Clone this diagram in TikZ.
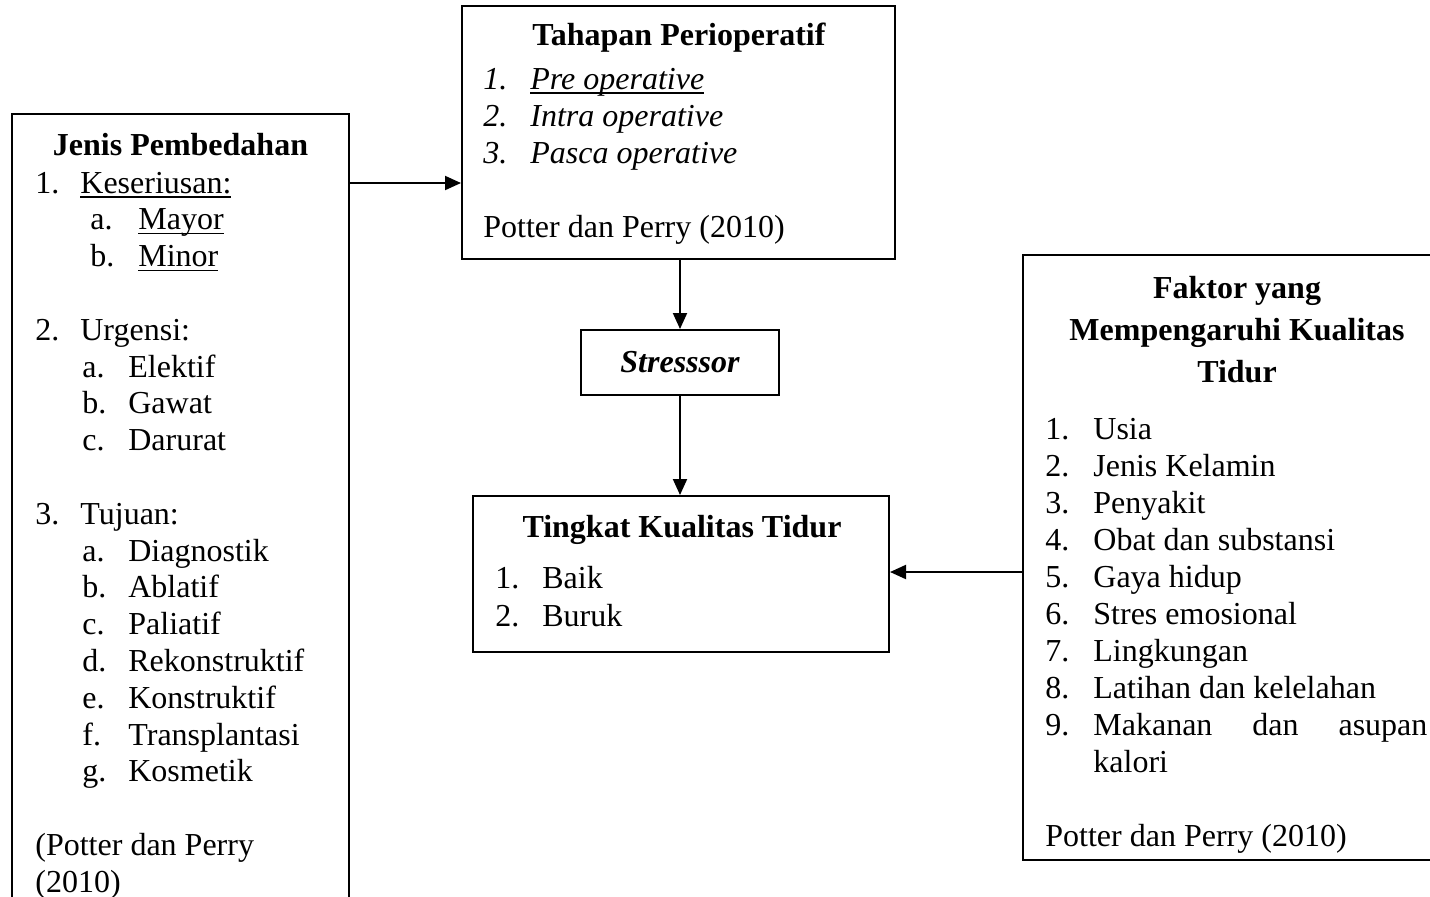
\documentclass[tikz,border=0pt]{standalone}
\usepackage{fontspec}
\setmainfont{Liberation Serif}
\usetikzlibrary{arrows.meta,fit}
\newcommand\myul[1]{\setbox0\hbox{#1}\rlap{\rule[-2.3pt]{\wd0}{0.6pt}}\box0}
\newcommand\lab[2]{\makebox[#1][l]{#2}}
\tikzset{
  box/.style={draw, line width=1pt, inner sep=0pt},
  txt/.style={inner sep=0pt, font=\fontsize{16}{18.5}\selectfont},
  arr/.style={line width=1pt, -{Triangle[length=8pt,width=7pt]}}
}
\begin{document}
\begin{tikzpicture}[x=0.5pt,y=-0.5pt]
\clip (0,0) rectangle (1430,896);
\fill[white] (0,0) rectangle (1430,896);

% boxes
\node[box, fit={(12,114) (349,930)}] (left) {};
\node[box, fit={(462,6) (895,259)}] (top) {};
\node[box, minimum width=99pt, minimum height=32.5pt, font=\fontsize{16}{18.5}\selectfont\bfseries\itshape] (stress) at (680,362.5) {Stresssor};
\node[box, fit={(473,496) (889,652)}] (tingkat) {};
\node[box, fit={(1023,255) (1451,860)}] (right) {};

% left box text
\node[txt, anchor=base, font=\fontsize{16}{18.5}\selectfont\bfseries] (lefthead) at (180.5,155) {Jenis Pembedahan};
\node[txt, anchor=base west] (leftlist) at (35,193) {\parbox[t]{170pt}{\baselineskip=18.4pt
\lab{22.5pt}{1.}\myul{Keseriusan:}\\
\hspace*{27.5pt}\lab{24pt}{a.}\myul{Mayor}\\
\hspace*{27.5pt}\lab{24pt}{b.}\myul{Minor}\\
\mbox{}\\
\lab{22.5pt}{2.}Urgensi:\\
\hspace*{23.5pt}\lab{23pt}{a.}Elektif\\
\hspace*{23.5pt}\lab{23pt}{b.}Gawat\\
\hspace*{23.5pt}\lab{23pt}{c.}Darurat\\
\mbox{}\\
\lab{22.5pt}{3.}Tujuan:\\
\hspace*{23.5pt}\lab{23pt}{a.}Diagnostik\\
\hspace*{23.5pt}\lab{23pt}{b.}Ablatif\\
\hspace*{23.5pt}\lab{23pt}{c.}Paliatif\\
\hspace*{23.5pt}\lab{23pt}{d.}Rekonstruktif\\
\hspace*{23.5pt}\lab{23pt}{e.}Konstruktif\\
\hspace*{23.5pt}\lab{23pt}{f.}Transplantasi\\
\hspace*{23.5pt}\lab{23pt}{g.}Kosmetik\\
\mbox{}\\
(Potter dan Perry\\
(2010)}};

% top box text
\node[txt, anchor=base, font=\fontsize{16}{18.5}\selectfont\bfseries] (tophead) at (679,45) {Tahapan Perioperatif};
\node[txt, anchor=base west] (toplist) at (483,89) {\parbox[t]{200pt}{\baselineskip=18.5pt
\lab{23.5pt}{\textit{1.}}\myul{\textit{Pre operative}}\\
\lab{23.5pt}{\textit{2.}}\textit{Intra operative}\\
\lab{23.5pt}{\textit{3.}}\textit{Pasca operative}\\
\mbox{}\\
Potter dan Perry (2010)}};

% tingkat box text
\node[txt, anchor=base, font=\fontsize{16}{18.5}\selectfont\bfseries] (tinghead) at (682,537) {Tingkat Kualitas Tidur};
\node[txt, anchor=base west] (tinglist) at (495,588) {\parbox[t]{180pt}{\baselineskip=19pt
\lab{23.5pt}{1.}Baik\\
\lab{23.5pt}{2.}Buruk}};

% right box text
\node[txt, anchor=base, font=\fontsize{16}{21}\selectfont\bfseries] (righthead) at (1237,298) {\parbox[t]{200pt}{\centering\baselineskip=21pt
Faktor yang\\
Mempengaruhi Kualitas\\
Tidur}};
\node[txt, anchor=base west] (rightlist) at (1045,439) {\parbox[t]{200pt}{\baselineskip=18.5pt
\lab{24pt}{1.}Usia\\
\lab{24pt}{2.}Jenis Kelamin\\
\lab{24pt}{3.}Penyakit\\
\lab{24pt}{4.}Obat dan substansi\\
\lab{24pt}{5.}Gaya hidup\\
\lab{24pt}{6.}Stres emosional\\
\lab{24pt}{7.}Lingkungan\\
\lab{24pt}{8.}Latihan dan kelelahan\\
\lab{24pt}{9.}\makebox[167pt][s]{Makanan\hfill dan\hfill asupan}\\
\hspace*{24pt}kalori\\
\mbox{}\\
Potter dan Perry (2010)}};

% connectors
\coordinate (a1) at (0,183);
\coordinate (a2) at (0,572);
\draw[arr] (left.east |- a1) -- (top.west |- a1);
\draw[arr] (stress.north |- top.south) -- (stress.north);
\draw[arr] (stress.south) -- (stress.south |- tingkat.north);
\draw[arr] (right.west |- a2) -- (tingkat.east |- a2);
\end{tikzpicture}
\end{document}
